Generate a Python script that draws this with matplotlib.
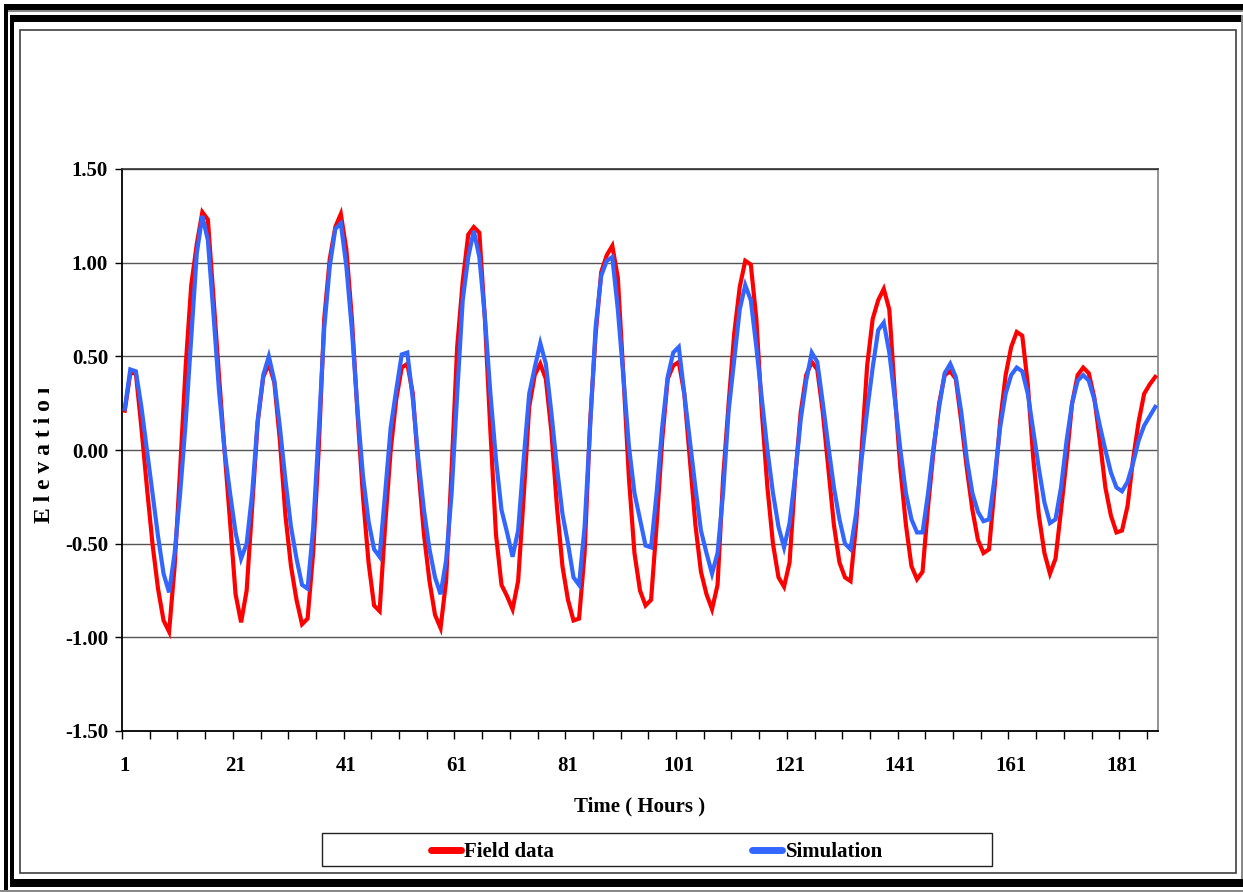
import matplotlib
matplotlib.use("Agg")
import matplotlib.pyplot as plt
import numpy as np
from matplotlib.patches import Rectangle

W, H = 1243, 892

# hourly elevations, hours 1..187
field_data = [
    0.21, 0.41, 0.41, 0.12, -0.20, -0.50, -0.74, -0.91, -0.97, -0.62,
    -0.10, 0.45, 0.88, 1.10, 1.27, 1.23, 0.82, 0.40, 0.00, -0.38,
    -0.77, -0.92, -0.75, -0.30, 0.15, 0.39, 0.46, 0.36, 0.05, -0.35,
    -0.62, -0.80, -0.93, -0.90, -0.55, 0.00, 0.70, 1.02, 1.19, 1.26,
    1.07, 0.70, 0.20, -0.25, -0.60, -0.83, -0.86, -0.40, 0.00, 0.27,
    0.44, 0.46, 0.30, -0.10, -0.45, -0.70, -0.88, -0.95, -0.70, -0.10,
    0.55, 0.90, 1.15, 1.19, 1.16, 0.70, 0.10, -0.45, -0.72, -0.78,
    -0.85, -0.70, -0.25, 0.23, 0.40, 0.46, 0.38, 0.10, -0.30, -0.62,
    -0.80, -0.91, -0.90, -0.55, 0.15, 0.62, 0.95, 1.04, 1.09, 0.92,
    0.40, -0.15, -0.55, -0.75, -0.83, -0.80, -0.40, 0.05, 0.38, 0.45,
    0.47, 0.30, -0.05, -0.40, -0.65, -0.77, -0.85, -0.72, -0.15, 0.25,
    0.62, 0.87, 1.01, 0.99, 0.70, 0.20, -0.20, -0.50, -0.68, -0.73,
    -0.60, -0.15, 0.20, 0.40, 0.47, 0.43, 0.20, -0.10, -0.40, -0.60,
    -0.68, -0.70, -0.40, 0.00, 0.45, 0.70, 0.80, 0.86, 0.75, 0.30,
    -0.10, -0.40, -0.62, -0.69, -0.65, -0.30, 0.00, 0.25, 0.40, 0.42,
    0.38, 0.15, -0.10, -0.32, -0.48, -0.55, -0.53, -0.20, 0.15, 0.40,
    0.55, 0.63, 0.61, 0.35, -0.05, -0.35, -0.55, -0.66, -0.58, -0.32,
    -0.05, 0.25, 0.40, 0.44, 0.41, 0.28, 0.05, -0.20, -0.35, -0.44,
    -0.43, -0.30, -0.05, 0.15, 0.30, 0.35, 0.39,
]

simulation = [
    0.22, 0.43, 0.42, 0.23, 0.00, -0.23, -0.46, -0.66, -0.76, -0.55,
    -0.23, 0.15, 0.60, 1.05, 1.25, 1.12, 0.73, 0.32, 0.00, -0.23,
    -0.44, -0.58, -0.50, -0.23, 0.16, 0.40, 0.50, 0.37, 0.12, -0.16,
    -0.41, -0.58, -0.72, -0.74, -0.42, 0.10, 0.65, 0.98, 1.18, 1.21,
    0.98, 0.64, 0.22, -0.14, -0.38, -0.53, -0.57, -0.23, 0.12, 0.32,
    0.51, 0.52, 0.27, -0.05, -0.32, -0.53, -0.68, -0.77, -0.59, -0.23,
    0.30, 0.80, 1.03, 1.17, 1.03, 0.71, 0.30, -0.05, -0.32, -0.44,
    -0.57, -0.43, -0.05, 0.30, 0.44, 0.57, 0.46, 0.20, -0.09, -0.34,
    -0.50, -0.68, -0.72, -0.41, 0.12, 0.66, 0.93, 1.01, 1.03, 0.75,
    0.39, 0.02, -0.23, -0.37, -0.51, -0.52, -0.23, 0.12, 0.39, 0.52,
    0.55, 0.30, 0.05, -0.20, -0.43, -0.55, -0.66, -0.55, -0.23, 0.21,
    0.48, 0.75, 0.88, 0.80, 0.55, 0.27, 0.00, -0.23, -0.41, -0.52,
    -0.39, -0.14, 0.16, 0.37, 0.52, 0.47, 0.25, 0.02, -0.20, -0.37,
    -0.50, -0.53, -0.34, -0.05, 0.21, 0.44, 0.64, 0.68, 0.52, 0.27,
    0.00, -0.23, -0.37, -0.44, -0.44, -0.23, 0.02, 0.23, 0.41, 0.46,
    0.39, 0.20, -0.05, -0.23, -0.33, -0.38, -0.37, -0.15, 0.12, 0.30,
    0.40, 0.44, 0.42, 0.30, 0.10, -0.10, -0.28, -0.39, -0.37, -0.20,
    0.05, 0.25, 0.37, 0.40, 0.37, 0.27, 0.13, 0.00, -0.12, -0.20,
    -0.22, -0.17, -0.07, 0.05, 0.13, 0.18, 0.23,
]

hours = np.arange(1, len(field_data) + 1)
x_labels = [1, 21, 41, 61, 81, 101, 121, 141, 161, 181]
y_ticks = [-1.5, -1.0, -0.5, 0.0, 0.5, 1.0, 1.5]

plt.rcParams['font.family'] = ['Liberation Serif', 'DejaVu Serif']
plt.rcParams['font.weight'] = 'bold'


def px(x0, y0, x1, y1):
    # pixel box (y from top) -> figure fraction rectangle args
    return (x0 / W, 1 - y1 / H), (x1 - x0) / W, (y1 - y0) / H


fig = plt.figure(figsize=(W / 100, H / 100), dpi=100)
fig.patch.set_facecolor('white')

# double frame round the chart
bands = [
    ((4, 4, 1243, 10), 'black'),
    ((4, 10, 1243, 11.5), '#888888'),
    ((10, 15, 1243, 22), 'black'),
    ((4, 4, 7.5, 892), 'black'),
    ((10, 15, 14, 887), 'black'),
    ((10, 879, 1243, 887), 'black'),
    ((0, 889.5, 1243, 892), '#888888'),
    ((1240.5, 15, 1243, 879), '#888888'),
]
for box, col in bands:
    xy, w, h = px(*box)
    fig.add_artist(Rectangle(xy, w, h, transform=fig.transFigure,
                             facecolor=col, edgecolor='none'))
xy, w, h = px(20, 30, 1236, 873)
fig.add_artist(Rectangle(xy, w, h, transform=fig.transFigure,
                         facecolor='none', edgecolor='#404040', linewidth=1.2))

ax = fig.add_axes([122 / W, 1 - 731 / H, (1158 - 122) / W, (731 - 169) / H])

ax.plot(hours, field_data, color='#FF0000', linewidth=3.0,
        solid_joinstyle='miter', label='Field data', zorder=3)
ax.plot(hours, simulation, color='#3366FF', linewidth=3.0,
        solid_joinstyle='miter', label='Simulation', zorder=4)

ax.set_xlim(0.5, len(hours) + 0.5)
ax.set_ylim(-1.5, 1.5)

ax.set_yticks(y_ticks)
ax.set_yticklabels([f'{v:.2f}' for v in y_ticks])
ax.yaxis.grid(True, color='#555555', linewidth=1.0)
ax.set_axisbelow(True)

ax.set_xticks(x_labels)
ax.set_xticklabels([str(v) for v in x_labels])
ax.set_xticks(np.arange(0.5, len(hours) + 1, 5), minor=True)
ax.tick_params(axis='x', which='major', length=0, pad=18, labelsize=15)
ax.tick_params(axis='x', which='minor', length=6, width=1.0, direction='out')
ax.tick_params(axis='y', length=5, width=1.0, direction='out', pad=5,
               labelsize=15)

for side in ['left', 'bottom']:
    ax.spines[side].set_color('black')
    ax.spines[side].set_linewidth(1.3)
ax.spines['top'].set_color('#333333')
ax.spines['top'].set_linewidth(1.2)
ax.spines['right'].set_color('#808080')
ax.spines['right'].set_linewidth(1.2)

ax.set_xlabel('Time ( Hours )', fontsize=15, fontweight='bold')
ax.xaxis.set_label_coords(0.5, -0.117)

# y label; the last letter is cut off in the original
fig.text(45 / W, 1 - 523 / H, 'E l e v a t i o n', rotation=90,
         ha='center', va='bottom', fontsize=17, fontweight='bold', zorder=5)
xy, w, h = px(30, 360, 60, 389)
fig.add_artist(Rectangle(xy, w, h, transform=fig.transFigure,
                         facecolor='white', edgecolor='none', zorder=6))

# legend
xy, w, h = px(322, 833, 992, 866)
fig.add_artist(Rectangle(xy, w, h, transform=fig.transFigure,
                         facecolor='white', edgecolor='#222222', linewidth=1.0))
leg = fig.legend(loc='center', bbox_to_anchor=(657 / W, 1 - 852 / H), ncol=2,
                 frameon=False, fontsize=15, handlelength=1.45,
                 handletextpad=0.15, columnspacing=9.5)
for line in leg.get_lines():
    line.set_linewidth(5)
    line.set_solid_capstyle('round')

fig.savefig('out.png', dpi=100, facecolor='white')
